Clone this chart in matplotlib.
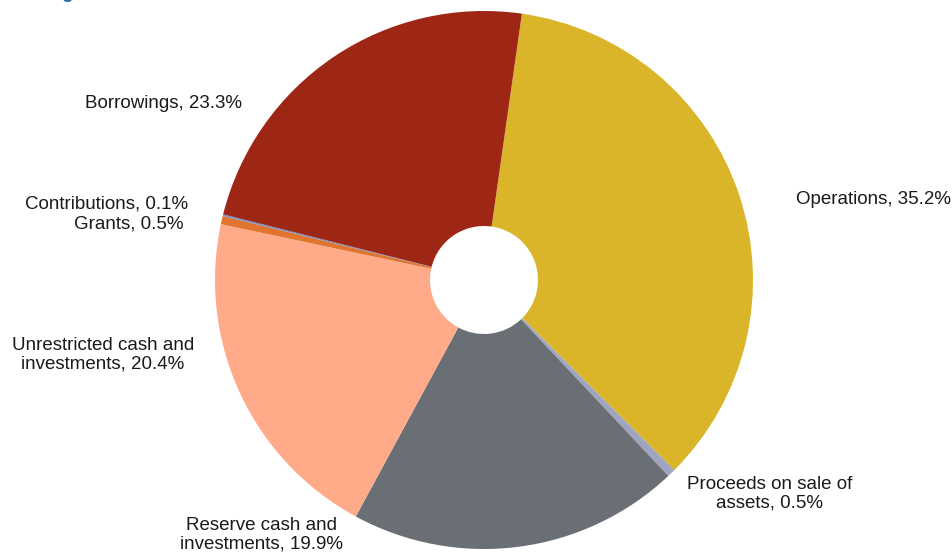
import matplotlib.pyplot as plt

plt.rcParams['font.family'] = ['Liberation Sans', 'DejaVu Sans']

# funding sources, percent of total
sources = ['Operations', 'Proceeds on sale of\nassets', 'Reserve cash and\ninvestments',
           'Unrestricted cash and\ninvestments', 'Grants', 'Contributions', 'Borrowings']
shares = [35.2, 0.5, 19.9, 20.4, 0.5, 0.1, 23.3]
colors = ['#DAB52A', '#9FA5BF', '#6A6E75', '#FFAB8A', '#E07530', '#6A92CC', '#9E2614']

# label anchor (pixel x, pixel y, horizontal alignment)
label_pos = [(796, 200, 'left'), (770, 494, 'center'), (262, 535, 'center'),
             (103, 355, 'center'), (184, 224, 'right'), (188, 204, 'right'),
             (242, 104, 'right')]

W, H = 952, 554
cx, cy, r = 484, 280, 269

fig = plt.figure(figsize=(W / 100, H / 100), dpi=100)
ax = fig.add_axes([0, 0, 1, 1])

ax.pie(shares, colors=colors, startangle=81.9, counterclock=False,
       radius=r, center=(0, 0),
       wedgeprops=dict(width=r - 54, linewidth=0))

for name, val, (px, py, ha) in zip(sources, shares, label_pos):
    ax.text(px - cx, cy - py, f'{name}, {val}%', ha=ha, va='center',
            fontsize=13.5, color='#1a1a1a', linespacing=1.1)

ax.set_xlim(-cx, W - cx)
ax.set_ylim(cy - H, cy)
ax.set_aspect('equal')
ax.axis('off')

# heading sits above the visible area, only its descender shows
fig.text(0.0, 1.0 + 1.5 / H, 'Funding Sources', ha='left', va='baseline',
         fontsize=13.5, fontweight='bold', color='#1F6AA5')

fig.savefig('out.png', dpi=100)
